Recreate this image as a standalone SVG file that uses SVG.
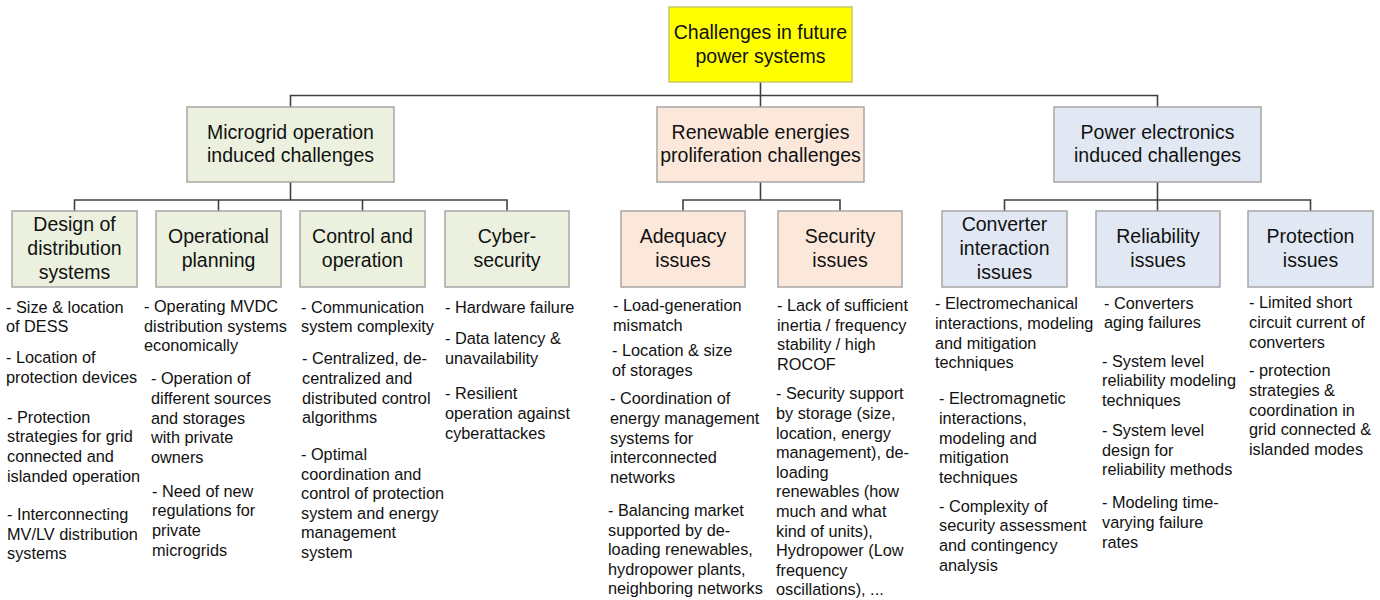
<svg xmlns="http://www.w3.org/2000/svg" width="1380" height="600" viewBox="0 0 1380 600">
<style>
text{font-family:"Liberation Sans",Arial,sans-serif;fill:#111}
.h{font-size:19.5px;text-anchor:middle}
.b{font-size:16.3px}
.box{stroke:#a6a6a6;stroke-width:1.5}
.root{fill:#ffff00;stroke:#c8c86a;stroke-width:1.5}
.g{fill:#ebf1de}
.o{fill:#fce8da}
.u{fill:#e1e8f4}
.c{fill:none;stroke:#404040;stroke-width:1.6}
</style>
<rect width="1380" height="600" fill="#fff"/>
<g id="connectors">
<path class="c" d="M760.5 82V107M290.5 107V95.5H1157.5V107"/>
<path class="c" d="M290.5 182V200M74.5 211V200H507V211M218.5 200V211M362.5 200V211"/>
<path class="c" d="M760.5 182V200M683 211V200H840V211"/>
<path class="c" d="M1157.5 182V211M1004.5 211V200H1310.5V211"/>
</g>
<g id="root">
<rect class="root" x="669" y="7" width="183" height="75"/>
<text class="h" x="760.5" y="39">Challenges in future</text>
<text class="h" x="760.5" y="62.5">power systems</text>
</g>
<g id="microgrid">
<rect class="box g" x="187" y="107" width="207" height="75"/>
<text class="h" x="290.5" y="138.7">Microgrid operation</text>
<text class="h" x="290.5" y="162.2">induced challenges</text>
</g>
<g id="renewable">
<rect class="box o" x="657" y="107" width="207" height="75"/>
<text class="h" x="760.5" y="138.7">Renewable energies</text>
<text class="h" x="760.5" y="162.2">proliferation challenges</text>
</g>
<g id="powerelectronics">
<rect class="box u" x="1054" y="107" width="207" height="75"/>
<text class="h" x="1157.5" y="138.7">Power electronics</text>
<text class="h" x="1157.5" y="162.2">induced challenges</text>
</g>
<g id="design">
<rect class="box g" x="12" y="211" width="125" height="76"/>
<text class="h" x="74.5" y="231">Design of</text>
<text class="h" x="74.5" y="255">distribution</text>
<text class="h" x="74.5" y="278.7">systems</text>
</g>
<g id="operational">
<rect class="box g" x="156" y="211" width="125" height="76"/>
<text class="h" x="218.5" y="243">Operational</text>
<text class="h" x="218.5" y="267">planning</text>
</g>
<g id="control">
<rect class="box g" x="300" y="211" width="125" height="76"/>
<text class="h" x="362.5" y="243">Control and</text>
<text class="h" x="362.5" y="267">operation</text>
</g>
<g id="cyber">
<rect class="box g" x="445" y="211" width="124" height="76"/>
<text class="h" x="507" y="243">Cyber-</text>
<text class="h" x="507" y="267">security</text>
</g>
<g id="adequacy">
<rect class="box o" x="621" y="211" width="124" height="76"/>
<text class="h" x="683" y="243">Adequacy</text>
<text class="h" x="683" y="267">issues</text>
</g>
<g id="security">
<rect class="box o" x="778" y="211" width="124" height="76"/>
<text class="h" x="840" y="243">Security</text>
<text class="h" x="840" y="267">issues</text>
</g>
<g id="converter">
<rect class="box u" x="942" y="211" width="125" height="76"/>
<text class="h" x="1004.5" y="231">Converter</text>
<text class="h" x="1004.5" y="255">interaction</text>
<text class="h" x="1004.5" y="278.7">issues</text>
</g>
<g id="reliability">
<rect class="box u" x="1096" y="211" width="124" height="76"/>
<text class="h" x="1158" y="243">Reliability</text>
<text class="h" x="1158" y="267">issues</text>
</g>
<g id="protection">
<rect class="box u" x="1248" y="211" width="125" height="76"/>
<text class="h" x="1310.5" y="243">Protection</text>
<text class="h" x="1310.5" y="267">issues</text>
</g>
<g id="design-items" class="b">
<text class="b" x="6" y="312.7">- Size &amp; location</text>
<text class="b" x="6" y="332.3">of DESS</text>
<text class="b" x="6" y="363.3">- Location of</text>
<text class="b" x="6" y="382.9">protection devices</text>
<text class="b" x="7" y="422.7">- Protection</text>
<text class="b" x="7" y="442.3">strategies for grid</text>
<text class="b" x="7" y="461.9">connected and</text>
<text class="b" x="7" y="481.5">islanded operation</text>
<text class="b" x="7" y="520">- Interconnecting</text>
<text class="b" x="7" y="539.6">MV/LV distribution</text>
<text class="b" x="7" y="559.2">systems</text>
</g>
<g id="operational-items">
<text class="b" x="144" y="312">- Operating MVDC</text>
<text class="b" x="144" y="331.6">distribution systems</text>
<text class="b" x="144" y="351.2">economically</text>
<text class="b" x="151" y="384.3">- Operation of</text>
<text class="b" x="151" y="403.9">different sources</text>
<text class="b" x="151" y="423.5">and storages</text>
<text class="b" x="151" y="443.1">with private</text>
<text class="b" x="151" y="462.7">owners</text>
<text class="b" x="152" y="496.7">- Need of new</text>
<text class="b" x="152" y="516.3">regulations for</text>
<text class="b" x="152" y="535.9">private</text>
<text class="b" x="152" y="555.5">microgrids</text>
</g>
<g id="control-items">
<text class="b" x="301" y="312.7">- Communication</text>
<text class="b" x="301" y="332.3">system complexity</text>
<text class="b" x="302" y="364.3">- Centralized, de-</text>
<text class="b" x="302" y="383.9">centralized and</text>
<text class="b" x="302" y="403.5">distributed control</text>
<text class="b" x="302" y="423.1">algorithms</text>
<text class="b" x="301" y="460">- Optimal</text>
<text class="b" x="301" y="479.6">coordination and</text>
<text class="b" x="301" y="499.2">control of protection</text>
<text class="b" x="301" y="518.8">system and energy</text>
<text class="b" x="301" y="538.4">management</text>
<text class="b" x="301" y="558">system</text>
</g>
<g id="cyber-items">
<text class="b" x="445" y="312.7">- Hardware failure</text>
<text class="b" x="445" y="344.3">- Data latency &amp;</text>
<text class="b" x="445" y="363.9">unavailability</text>
<text class="b" x="445" y="399.3">- Resilient</text>
<text class="b" x="445" y="418.9">operation against</text>
<text class="b" x="445" y="438.5">cyberattackes</text>
</g>
<g id="adequacy-items">
<text class="b" x="613" y="311">- Load-generation</text>
<text class="b" x="613" y="330.6">mismatch</text>
<text class="b" x="612" y="356">- Location &amp; size</text>
<text class="b" x="612" y="375.6">of storages</text>
<text class="b" x="610" y="404.3">- Coordination of</text>
<text class="b" x="610" y="423.9">energy management</text>
<text class="b" x="610" y="443.5">systems for</text>
<text class="b" x="610" y="463.1">interconnected</text>
<text class="b" x="610" y="482.7">networks</text>
<text class="b" x="608" y="516">- Balancing market</text>
<text class="b" x="608" y="535.6">supported by de-</text>
<text class="b" x="608" y="555.2">loading renewables,</text>
<text class="b" x="608" y="574.8">hydropower plants,</text>
<text class="b" x="608" y="594.4">neighboring networks</text>
</g>
<g id="security-items">
<text class="b" x="777" y="311">- Lack of sufficient</text>
<text class="b" x="777" y="330.6">inertia / frequency</text>
<text class="b" x="777" y="350.2">stability / high</text>
<text class="b" x="777" y="369.8">ROCOF</text>
<text class="b" x="776" y="399.3">- Security support</text>
<text class="b" x="776" y="418.9">by storage (size,</text>
<text class="b" x="776" y="438.5">location, energy</text>
<text class="b" x="776" y="458.1">management), de-</text>
<text class="b" x="776" y="477.7">loading</text>
<text class="b" x="776" y="497.3">renewables (how</text>
<text class="b" x="776" y="516.9">much and what</text>
<text class="b" x="776" y="536.5">kind of units),</text>
<text class="b" x="776" y="556.1">Hydropower (Low</text>
<text class="b" x="776" y="575.7">frequency</text>
<text class="b" x="776" y="595.3">oscillations), ...</text>
</g>
<g id="converter-items">
<text class="b" x="935" y="309.3">- Electromechanical</text>
<text class="b" x="935" y="328.9">interactions, modeling</text>
<text class="b" x="935" y="348.5">and mitigation</text>
<text class="b" x="935" y="368.1">techniques</text>
<text class="b" x="939" y="404.3">- Electromagnetic</text>
<text class="b" x="939" y="423.9">interactions,</text>
<text class="b" x="939" y="443.5">modeling and</text>
<text class="b" x="939" y="463.1">mitigation</text>
<text class="b" x="939" y="482.7">techniques</text>
<text class="b" x="939" y="511.7">- Complexity of</text>
<text class="b" x="939" y="531.3">security assessment</text>
<text class="b" x="939" y="550.9">and contingency</text>
<text class="b" x="939" y="570.5">analysis</text>
</g>
<g id="reliability-items">
<text class="b" x="1104" y="308.7">- Converters</text>
<text class="b" x="1104" y="328.3">aging failures</text>
<text class="b" x="1102" y="366.7">- System level</text>
<text class="b" x="1102" y="386.3">reliability modeling</text>
<text class="b" x="1102" y="405.9">techniques</text>
<text class="b" x="1102" y="436">- System level</text>
<text class="b" x="1102" y="455.6">design for</text>
<text class="b" x="1102" y="475.2">reliability methods</text>
<text class="b" x="1102" y="508.3">- Modeling time-</text>
<text class="b" x="1102" y="527.9">varying failure</text>
<text class="b" x="1102" y="547.5">rates</text>
</g>
<g id="protection-items">
<text class="b" x="1249" y="308.3">- Limited short</text>
<text class="b" x="1249" y="327.9">circuit current of</text>
<text class="b" x="1249" y="347.5">converters</text>
<text class="b" x="1249" y="376.3">- protection</text>
<text class="b" x="1249" y="395.9">strategies &amp;</text>
<text class="b" x="1249" y="415.5">coordination in</text>
<text class="b" x="1249" y="435.1">grid connected &amp;</text>
<text class="b" x="1249" y="454.7">islanded modes</text>
</g>
</svg>
